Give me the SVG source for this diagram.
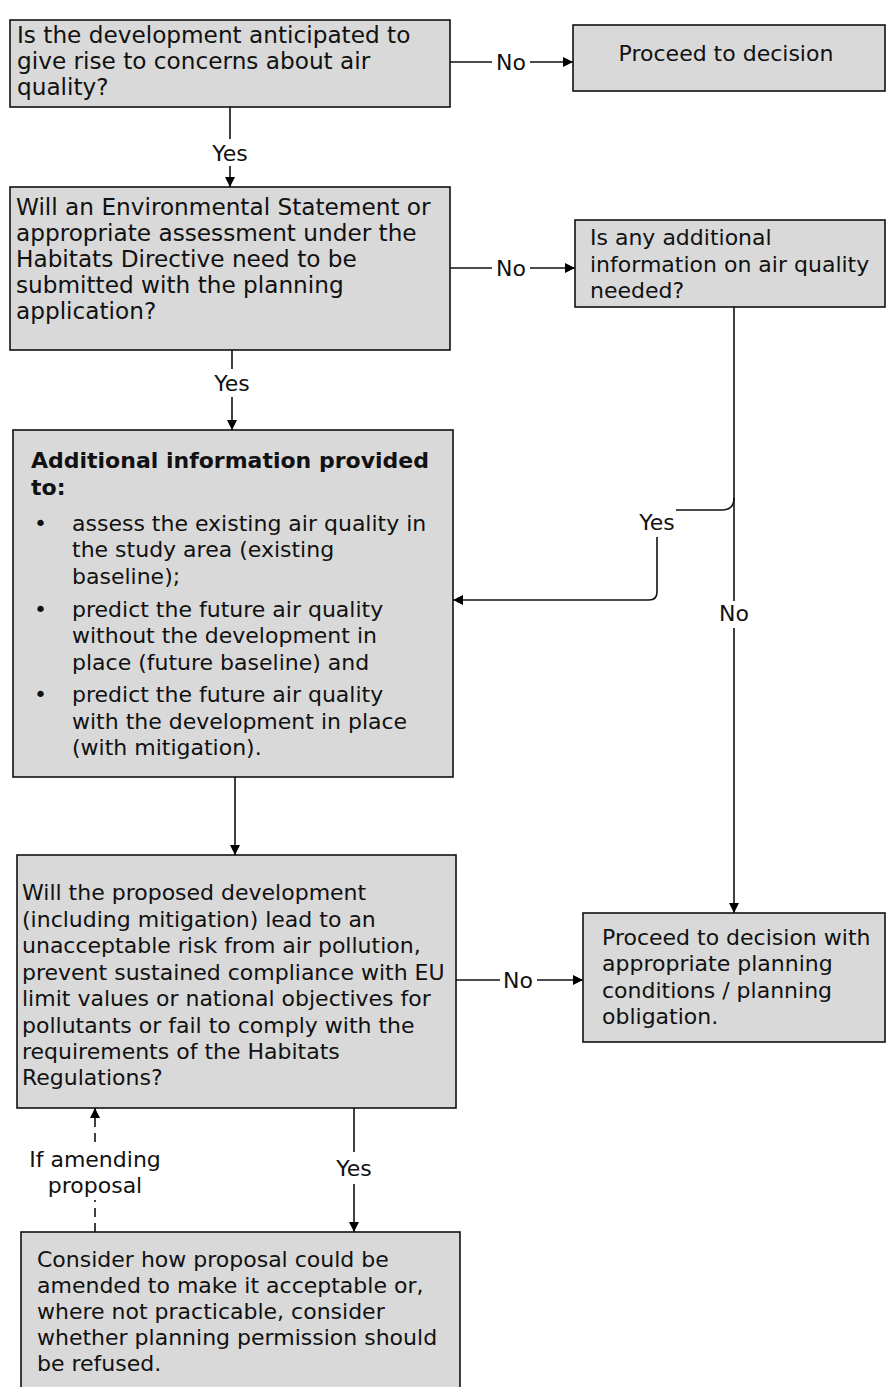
<svg xmlns="http://www.w3.org/2000/svg" width="888" height="1387" viewBox="0 0 888 1387">
<defs>
<marker id="ah" viewBox="0 0 10 10" refX="10" refY="5" markerWidth="12" markerHeight="10" orient="auto" markerUnits="userSpaceOnUse"><path d="M0,0 L10,5 L0,10 z" fill="#000"/></marker>
<style>
.box{fill:#d9d9d9;stroke:#111;stroke-width:1.6}
.t{font-family:"DejaVu Sans",Verdana,sans-serif;font-size:22px;fill:#111}
.L{font-size:23.2px}
.b{font-weight:bold}
.lbl{font-family:"DejaVu Sans",Verdana,sans-serif;font-size:22px;fill:#111;text-anchor:middle}
.c{fill:none;stroke:#111;stroke-width:1.6}
.d{stroke-dasharray:9,6}
</style>
</defs>
<rect width="888" height="1387" fill="#fff"/>
<g id="connectors">
<path class="c" d="M450,62 H492"/><path class="c" d="M530,62 H573" marker-end="url(#ah)"/>
<text class="lbl" x="511" y="70">No</text>
<path class="c" d="M230,107 V139"/><path class="c" d="M230,166 V187" marker-end="url(#ah)"/>
<text class="lbl" x="230" y="161">Yes</text>
<path class="c" d="M450,268 H492"/><path class="c" d="M530,268 H575" marker-end="url(#ah)"/>
<text class="lbl" x="511" y="276">No</text>
<path class="c" d="M232,350 V369"/><path class="c" d="M232,397 V430" marker-end="url(#ah)"/>
<text class="lbl" x="232" y="391">Yes</text>
<path class="c" d="M734,307 V601"/><path class="c" d="M734,628 V913" marker-end="url(#ah)"/>
<text class="lbl" x="734" y="621">No</text>
<path class="c" d="M734,498 Q734,510 722,510 H676"/>
<text class="lbl" x="657" y="530">Yes</text>
<path class="c" d="M657,537 V592 Q657,600 649,600 H453" marker-end="url(#ah)"/>
<path class="c" d="M235,777 V855" marker-end="url(#ah)"/>
<path class="c" d="M456,980 H500"/><path class="c" d="M537,980 H583" marker-end="url(#ah)"/>
<text class="lbl" x="518" y="988">No</text>
<path class="c" d="M354,1108 V1152"/><path class="c" d="M354,1184 V1232" marker-end="url(#ah)"/>
<text class="lbl" x="354" y="1176">Yes</text>
<path class="c d" d="M95,1232 V1200"/><path class="c d" d="M95,1142 V1108" marker-end="url(#ah)"/>
<text class="lbl" x="95" y="1167">If amending</text>
<text class="lbl" x="95" y="1193">proposal</text>
</g>
<g id="n1"><rect class="box" x="10" y="20" width="440" height="87"/>
<text class="t L" x="17" y="43">Is the development anticipated to</text>
<text class="t L" x="17" y="69">give rise to concerns about air</text>
<text class="t L" x="17" y="95">quality?</text></g>
<g id="n2"><rect class="box" x="573" y="25" width="312" height="66"/>
<text class="t" x="726" y="61" text-anchor="middle">Proceed to decision</text></g>
<g id="n3"><rect class="box" x="10" y="187" width="440" height="163"/>
<text class="t L" x="16" y="215">Will an Environmental Statement or</text>
<text class="t L" x="16" y="241">appropriate assessment under the</text>
<text class="t L" x="16" y="267">Habitats Directive need to be</text>
<text class="t L" x="16" y="293">submitted with the planning</text>
<text class="t L" x="16" y="319">application?</text></g>
<g id="n4"><rect class="box" x="575" y="220" width="310" height="87"/>
<text class="t" x="590" y="245">Is any additional</text>
<text class="t" x="590" y="272">information on air quality</text>
<text class="t" x="590" y="298">needed?</text></g>
<g id="n5"><rect class="box" x="13" y="430" width="440" height="347"/>
<text class="t b" x="31" y="468">Additional information provided</text>
<text class="t b" x="31" y="495">to:</text>
<text class="t" x="34" y="531">•</text><text class="t" x="72" y="531">assess the existing air quality in</text>
<text class="t" x="72" y="557">the study area (existing</text>
<text class="t" x="72" y="584">baseline);</text>
<text class="t" x="34" y="617">•</text><text class="t" x="72" y="617">predict the future air quality</text>
<text class="t" x="72" y="643">without the development in</text>
<text class="t" x="72" y="670">place (future baseline) and</text>
<text class="t" x="34" y="702">•</text><text class="t" x="72" y="702">predict the future air quality</text>
<text class="t" x="72" y="729">with the development in place</text>
<text class="t" x="72" y="755">(with mitigation).</text></g>
<g id="n6"><rect class="box" x="17" y="855" width="439" height="253"/>
<text class="t" x="22" y="900">Will the proposed development</text>
<text class="t" x="22" y="927">(including mitigation) lead to an</text>
<text class="t" x="22" y="953">unacceptable risk from air pollution,</text>
<text class="t" x="22" y="980">prevent sustained compliance with EU</text>
<text class="t" x="22" y="1006">limit values or national objectives for</text>
<text class="t" x="22" y="1033">pollutants or fail to comply with the</text>
<text class="t" x="22" y="1059">requirements of the Habitats</text>
<text class="t" x="22" y="1085">Regulations?</text></g>
<g id="n7"><rect class="box" x="583" y="913" width="302" height="129"/>
<text class="t" x="602" y="945">Proceed to decision with</text>
<text class="t" x="602" y="971">appropriate planning</text>
<text class="t" x="602" y="998">conditions / planning</text>
<text class="t" x="602" y="1024">obligation.</text></g>
<g id="n8"><rect class="box" x="21" y="1232" width="439" height="170"/>
<text class="t" x="37" y="1267">Consider how proposal could be</text>
<text class="t" x="37" y="1293">amended to make it acceptable or,</text>
<text class="t" x="37" y="1319">where not practicable, consider</text>
<text class="t" x="37" y="1345">whether planning permission should</text>
<text class="t" x="37" y="1371">be refused.</text></g>
</svg>
